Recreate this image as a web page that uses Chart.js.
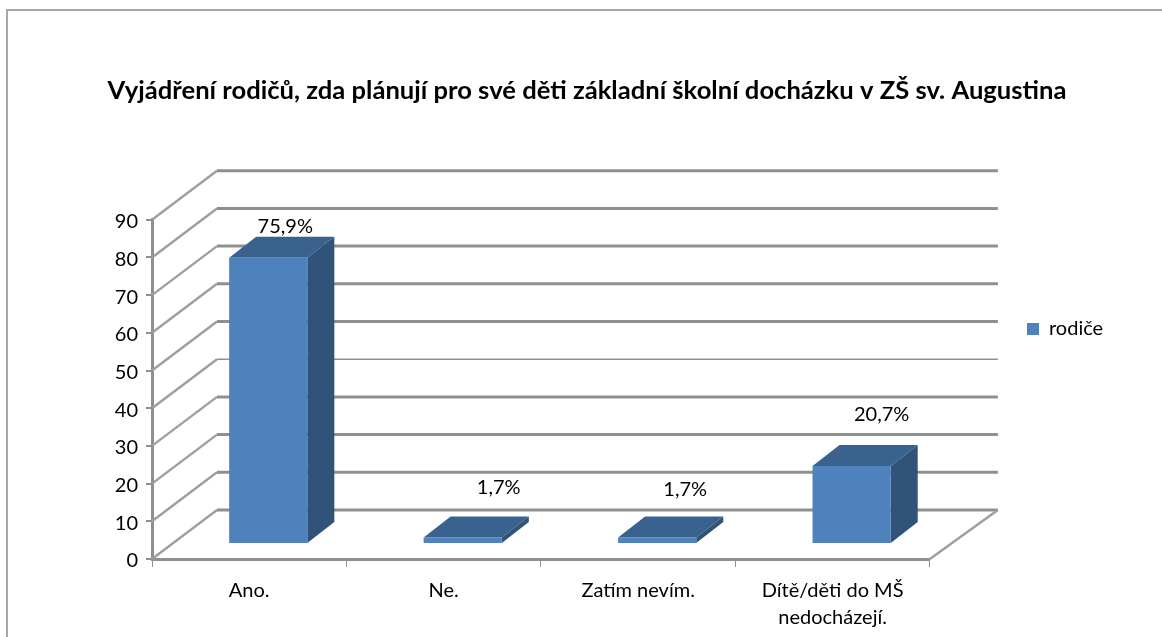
<!DOCTYPE html>
<html><head><meta charset="utf-8">
<style>html,body{margin:0;padding:0;background:#fff}canvas{display:block}</style>
<script src="https://cdn.jsdelivr.net/npm/chart.js@4"></script>
</head><body><canvas id="c" width="1162" height="637"></canvas>
<script>
const categories = ['Ano.', 'Ne.', 'Zatím nevím.', ['Dítě/děti do MŠ', 'nedocházejí.']];
const seriesName = 'rodiče';
const seriesValues = [75.9, 1.7, 1.7, 20.7];
const titleText = 'Vyjádření rodičů, zda plánují pro své děti základní školní docházku v ZŠ sv. Augustina';
const yTicks = [0, 10, 20, 30, 40, 50, 60, 70, 80, 90];

const FONT = 'Lato, sans-serif';
const GRID = '#8f8f8f', SIDE = '#9e9e9e';
const FRONT = '#4f81bd', RIGHT = '#325379', TOP = '#3a628f';
const WALL = {dx: 65, dxR: 68, dy: -49};
const BAR = {sx: 19, sy: -15, dx: 27, dy: -21};
const LABEL_OFF = [[17, -31], [36, -50], [28, -48], [30, -51]];

const plugin3d = {
  id: 'plugin3d',
  beforeDraw(chart) {
    const c = chart.ctx;
    c.save();
    c.strokeStyle = '#a6a6a6'; c.lineWidth = 2;
    c.beginPath(); c.moveTo(7, 637); c.lineTo(7, 10); c.lineTo(1162, 10); c.stroke();
    c.restore();
  },
  afterLayout(chart) {
    const l = chart.legend;
    const pad = l.options.labels.padding;
    const w = l.right - l.left, h = l.bottom - l.top;
    l.left = 1027 - pad; l.right = l.left + w;
    l.top = 329 - h / 2; l.bottom = l.top + h;
  },
  beforeDatasetsDraw(chart) {
    const c = chart.ctx, x = chart.scales.x, y = chart.scales.y;
    const L = x.left, R = x.right;
    c.save();
    yTicks.forEach(v => {
      const py = y.getPixelForValue(v);
      c.strokeStyle = SIDE; c.lineWidth = 2.4;
      c.beginPath(); c.moveTo(L, py); c.lineTo(L + WALL.dx, py + WALL.dy); c.stroke();
      c.strokeStyle = GRID; c.lineWidth = v === 40 ? 1.5 : 3;
      c.beginPath(); c.moveTo(L + WALL.dx, py + WALL.dy); c.lineTo(R + WALL.dxR, py + WALL.dy); c.stroke();
    });
    const p0 = y.getPixelForValue(0);
    c.strokeStyle = SIDE; c.lineWidth = 2.4;
    c.beginPath(); c.moveTo(R, p0); c.lineTo(R + WALL.dxR, p0 + WALL.dy); c.stroke();
    // side and top faces of each bar, taken from the library's bar elements
    chart.getDatasetMeta(0).data.forEach(b => {
      const l = b.x - b.width / 2 + BAR.sx, r = b.x + b.width / 2 + BAR.sx;
      const t = b.y + BAR.sy, bot = b.base + BAR.sy;
      c.fillStyle = TOP;
      c.beginPath(); c.moveTo(l, t); c.lineTo(l + BAR.dx, t + BAR.dy); c.lineTo(r + BAR.dx, t + BAR.dy); c.lineTo(r, t); c.closePath(); c.fill();
      c.fillStyle = RIGHT;
      c.beginPath(); c.moveTo(r, t); c.lineTo(r + BAR.dx, t + BAR.dy); c.lineTo(r + BAR.dx, bot + BAR.dy); c.lineTo(r, bot); c.closePath(); c.fill();
    });
    c.restore();
    c.save();
    c.translate(BAR.sx, BAR.sy);
  },
  afterDatasetsDraw(chart) {
    const c = chart.ctx;
    c.restore();
    c.save();
    c.fillStyle = '#000';
    c.font = '20px ' + FONT;
    c.textAlign = 'center'; c.textBaseline = 'middle';
    chart.getDatasetMeta(0).data.forEach((b, i) => {
      const txt = seriesValues[i].toFixed(1).replace('.', ',') + '%';
      c.fillText(txt, b.x + BAR.sx + LABEL_OFF[i][0], b.y + BAR.sy + LABEL_OFF[i][1]);
    });
    c.restore();
  }
};

new Chart(document.getElementById('c'), {
  type: 'bar',
  data: {labels: categories, datasets: [{
    label: seriesName, data: seriesValues, backgroundColor: FRONT,
    categoryPercentage: 0.402, barPercentage: 1, clip: false
  }]},
  options: {
    responsive: false, animation: false,
    layout: {padding: {left: 12, right: 0, top: 75, bottom: -4}},
    plugins: {
      tooltip: {enabled: false},
      title: {display: true, text: titleText, color: '#000',
        font: {family: FONT, size: 25.6, weight: 'bold', lineHeight: 1.2},
        padding: {top: 0, bottom: 114}},
      legend: {position: 'right',
        labels: {color: '#000', font: {family: FONT, size: 20}, boxWidth: 12, boxHeight: 12, padding: 146}}
    },
    scales: {
      x: {
        offset: true,
        grid: {display: true, drawOnChartArea: false, drawTicks: true, tickLength: 8, color: '#8f8f8f', lineWidth: 1},
        border: {display: true, color: GRID, width: 3},
        ticks: {color: '#000', maxRotation: 0, padding: 10, font: {family: FONT, size: 20, lineHeight: 1.35}}
      },
      y: {
        min: 0, max: 90,
        afterFit(s) { s.width = 140; },
        afterBuildTicks(s) { s.ticks = yTicks.map(v => ({value: v})); },
        grid: {display: true, drawOnChartArea: false, drawTicks: true, tickLength: 6, color: GRID, lineWidth: 2},
        border: {display: true, color: GRID, width: 3},
        ticks: {color: '#000', padding: 8, labelOffset: 2, font: {family: FONT, size: 20}}
      }
    }
  },
  plugins: [plugin3d]
});
</script></body></html>
